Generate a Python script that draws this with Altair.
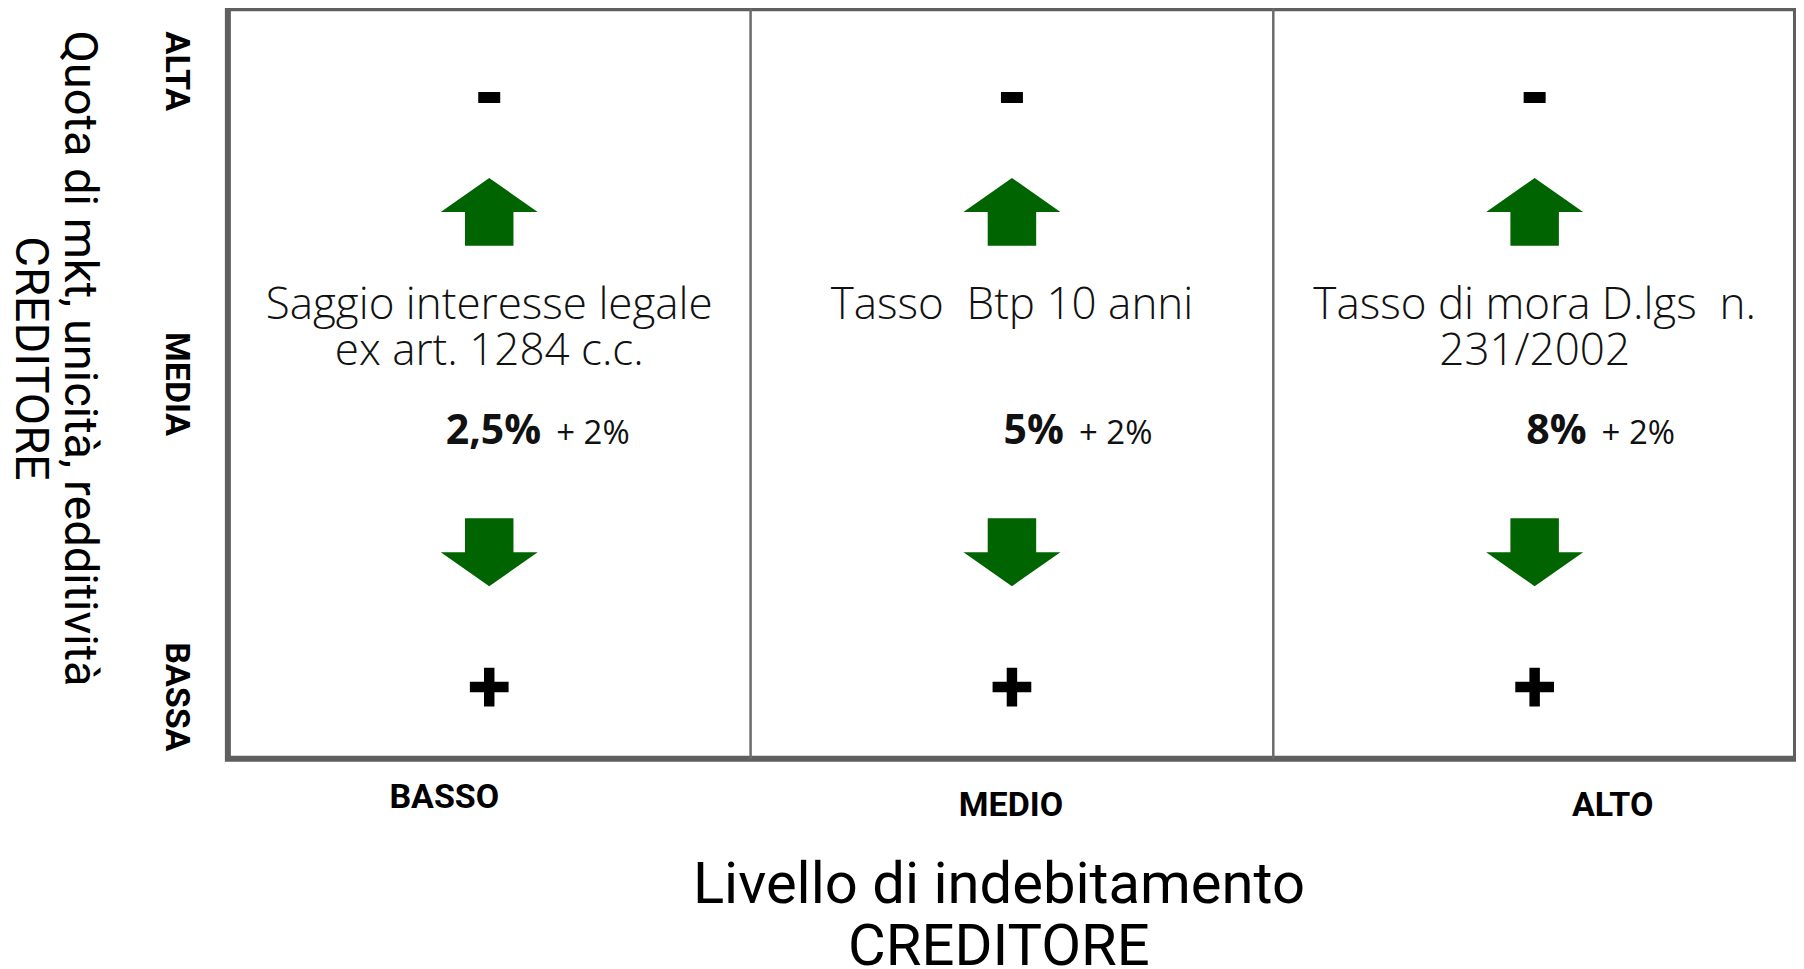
import altair as alt
import pandas as pd

# ---- data ----
livelli_indebitamento = ["BASSO", "MEDIO", "ALTO"]          # x categories
livelli_quota = ["ALTA", "MEDIA", "BASSA"]                   # y categories
riferimenti = [
    "Saggio interesse legale\nex art. 1284 c.c.",
    "Tasso\u00a0 Btp 10 anni",
    "Tasso di mora D.lgs\u00a0 n.\n231/2002",
]
tassi_base = ["2,5%", "5%", "8%"]
maggiorazioni = ["+ 2%", "+ 2%", "+ 2%"]
simboli = ["meno", "su", "giu", "piu"]
righe = ["meno", "su", "descrizione", "tasso", "giu", "piu"]

# ---- tables built from the arrays ----
df_quota = pd.DataFrame({"quota": livelli_quota})
df_div = pd.DataFrame({"col": livelli_indebitamento[1:]})
df_sym = pd.DataFrame(
    [{"col": c, "simbolo": s, "riga": s} for c in livelli_indebitamento for s in simboli]
)
df_txt = pd.DataFrame({
    "col": livelli_indebitamento,
    "descrizione": riferimenti,
    "tasso": tassi_base,
    "magg": maggiorazioni,
})
df_txt["riga_d"] = "descrizione"
df_txt["riga_t"] = "tasso"

# ---- styles ----
W, H = 1569, 751
GREEN = "#006400"
AX_FONT = "Roboto"

x_scale = alt.Scale(domain=livelli_indebitamento, paddingInner=0, paddingOuter=0)
x_axis = alt.Axis(
    title=["Livello di indebitamento", "CREDITORE"],
    labelAngle=0,
    labelFont=AX_FONT, labelFontWeight="bold", labelFontSize=34, labelColor="black",
    labelPadding={"condition": [{"test": "datum.value === 'BASSO'", "value": 22}], "value": 30},
    labelOffset={"condition": [{"test": "datum.value === 'BASSO'", "value": -45},
                               {"test": "datum.value === 'ALTO'", "value": 78}], "value": -1},
    ticks=False, domain=False, grid=False,
    titleFont=AX_FONT, titleFontSize=58, titleFontWeight="normal", titleColor="black",
    titleLineHeight=62, titleX=771, titleY=98, titleAlign="center", titleBaseline="top",
)


def xenc(**kw):
    return alt.X("col:N", scale=x_scale, axis=x_axis, **kw)


riga_scale = alt.Scale(type="point", domain=righe, padding=0.78)

# y label layer (ALTA / MEDIA / BASSA)
quota_layer = alt.Chart(df_quota).mark_point(opacity=0).encode(
    y=alt.Y(
        "quota:N",
        scale=alt.Scale(type="point", domain=livelli_quota, padding=0.2),
        axis=alt.Axis(
            title=["Quota di mkt, unicità, redditività", "CREDITORE"],
            labelAngle=90, labelAlign="center", labelBaseline="top",
            labelFont=AX_FONT, labelFontWeight="bold", labelFontSize=34, labelColor="black",
            labelPadding=35, ticks=False, domain=False, grid=False,
            titleFont=AX_FONT, titleFontSize=47, titleFontWeight="normal", titleColor="black",
            titleLineHeight=49, titleAngle=90, titleAlign="center", titleBaseline="top",
            titleX=-126, titleY=350,
        ),
    )
)

div_layer = alt.Chart(df_div).mark_rule(color="#6b6b6b", strokeWidth=2.5).encode(
    x=xenc(bandPosition=0)
)

paths = {
    "meno": "M-1,-0.5L1,-0.5L1,0.5L-1,0.5Z",
    "su": "M0,-0.7L1,0L0.5,0L0.5,0.7L-0.5,0.7L-0.5,0L-1,0Z",
    "giu": "M0,0.64L1,-0.06L0.5,-0.06L0.5,-0.76L-0.5,-0.76L-0.5,-0.06L-1,-0.06Z",
    "piu": "M-0.27,-0.1L0.27,-0.1L0.27,0.63L1,0.63L1,1.17L0.27,1.17L0.27,1.9L-0.27,1.9"
           "L-0.27,1.17L-1,1.17L-1,0.63L-0.27,0.63Z",
}

sym_layer = alt.Chart(df_sym).mark_point(filled=True, opacity=1, strokeWidth=0).encode(
    x=xenc(),
    y=alt.Y("riga:N", scale=riga_scale, axis=None),
    shape=alt.Shape("simbolo:N", scale=alt.Scale(domain=simboli, range=[paths[s] for s in simboli]), legend=None),
    size=alt.Size("simbolo:N", scale=alt.Scale(type="ordinal", domain=simboli, range=[484, 9409, 9409, 1500]), legend=None),
    color=alt.Color("simbolo:N", scale=alt.Scale(domain=simboli, range=["#000000", GREEN, GREEN, "#000000"]), legend=None),
)

desc_layer = alt.Chart(df_txt).mark_text(
    font="Open Sans", fontWeight=300, fontSize=44, lineHeight=46, lineBreak="\n",
    align="center", baseline="top", dy=-42, color="#111111",
).encode(
    x=xenc(),
    y=alt.Y("riga_d:N", scale=riga_scale, axis=None),
    text="descrizione:N",
)

tasso_layer = alt.Chart(df_txt).mark_text(
    font="Open Sans", fontWeight="bold", fontSize=41, align="right",
    baseline="alphabetic", dx=52, dy=3, color="#111111",
).encode(
    x=xenc(),
    y=alt.Y("riga_t:N", scale=riga_scale, axis=None),
    text="tasso:N",
)

magg_layer = alt.Chart(df_txt).mark_text(
    font="Open Sans", fontWeight="normal", fontSize=33, align="left",
    baseline="alphabetic", dx=67, dy=3, color="#111111",
).encode(
    x=xenc(),
    y=alt.Y("riga_t:N", scale=riga_scale, axis=None),
    text="magg:N",
)

chart = (
    alt.layer(quota_layer, div_layer, sym_layer, desc_layer, tasso_layer, magg_layer)
    .resolve_scale(y="independent")
    .properties(
        width=W, height=H,
        autosize=alt.AutoSizeParams(type="none"),
        padding={"left": 220, "top": 0, "right": 0, "bottom": 215},
        background="white",
    )
    .configure_view(stroke="#5f5f5f", strokeWidth=6, fill="white")
)

chart.save("out.html", embed_options={"renderer": "svg", "actions": False})
